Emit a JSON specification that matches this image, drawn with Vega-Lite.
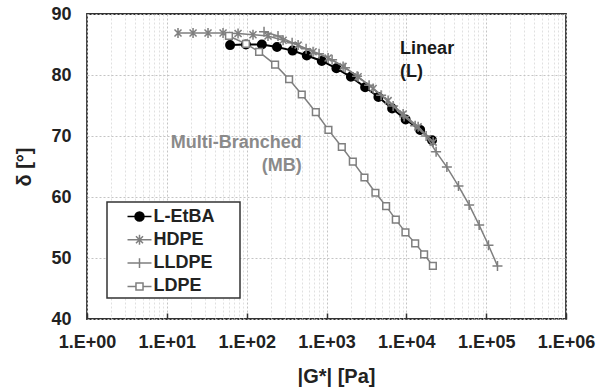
{
  "$schema": "https://vega.github.io/schema/vega-lite/v6.json",
  "width": 479,
  "height": 305,
  "autosize": "none",
  "padding": {"left": 87, "top": 14, "right": 31, "bottom": 73},
  "background": "white",
  "config": {
    "view": {"stroke": "#333333", "strokeWidth": 1.8},
    "font": "Liberation Sans",
    "axis": {
      "labelFont": "Liberation Sans", "labelFontWeight": "bold", "labelFontSize": 18, "labelColor": "#222",
      "titleFont": "Liberation Sans", "titleFontWeight": "bold", "titleFontSize": 20, "titleColor": "#222",
      "domain": false, "gridDash": [2, 2], "gridWidth": 1
    },
    "legend": {"strokeWidth": 1.5}
  },
  "datasets": {
    "curves": [
      {"series": "L-EtBA", "G": 62, "d": 84.9},
      {"series": "L-EtBA", "G": 98, "d": 85.0},
      {"series": "L-EtBA", "G": 155, "d": 85.0},
      {"series": "L-EtBA", "G": 240, "d": 84.6},
      {"series": "L-EtBA", "G": 376, "d": 84.0},
      {"series": "L-EtBA", "G": 566, "d": 83.2},
      {"series": "L-EtBA", "G": 873, "d": 82.3},
      {"series": "L-EtBA", "G": 1330, "d": 81.1},
      {"series": "L-EtBA", "G": 2023, "d": 79.7},
      {"series": "L-EtBA", "G": 3048, "d": 78.0},
      {"series": "L-EtBA", "G": 4470, "d": 76.4},
      {"series": "L-EtBA", "G": 6640, "d": 74.5},
      {"series": "L-EtBA", "G": 9800, "d": 72.7},
      {"series": "L-EtBA", "G": 14900, "d": 71.0},
      {"series": "L-EtBA", "G": 21000, "d": 69.3},
      {"series": "HDPE", "G": 13.8, "d": 86.9},
      {"series": "HDPE", "G": 21.3, "d": 86.9},
      {"series": "HDPE", "G": 32.8, "d": 86.9},
      {"series": "HDPE", "G": 50.6, "d": 86.9},
      {"series": "HDPE", "G": 78, "d": 86.8},
      {"series": "HDPE", "G": 120, "d": 86.6},
      {"series": "HDPE", "G": 185, "d": 86.4},
      {"series": "HDPE", "G": 286, "d": 85.7},
      {"series": "HDPE", "G": 441, "d": 84.9},
      {"series": "HDPE", "G": 679, "d": 83.8},
      {"series": "HDPE", "G": 1047, "d": 82.8},
      {"series": "HDPE", "G": 1614, "d": 81.4},
      {"series": "HDPE", "G": 2489, "d": 79.7},
      {"series": "HDPE", "G": 3837, "d": 77.8},
      {"series": "HDPE", "G": 5916, "d": 75.8},
      {"series": "HDPE", "G": 9120, "d": 73.6},
      {"series": "HDPE", "G": 14060, "d": 71.5},
      {"series": "HDPE", "G": 21670, "d": 69.0},
      {"series": "LLDPE", "G": 165, "d": 87.1},
      {"series": "LLDPE", "G": 247, "d": 86.4},
      {"series": "LLDPE", "G": 371, "d": 85.3},
      {"series": "LLDPE", "G": 555, "d": 84.3},
      {"series": "LLDPE", "G": 807, "d": 83.5},
      {"series": "LLDPE", "G": 1175, "d": 82.5},
      {"series": "LLDPE", "G": 1711, "d": 81.2},
      {"series": "LLDPE", "G": 2417, "d": 79.8},
      {"series": "LLDPE", "G": 3417, "d": 78.3},
      {"series": "LLDPE", "G": 4831, "d": 76.7},
      {"series": "LLDPE", "G": 6836, "d": 74.9},
      {"series": "LLDPE", "G": 9380, "d": 73.2},
      {"series": "LLDPE", "G": 12890, "d": 71.7},
      {"series": "LLDPE", "G": 17700, "d": 70.0},
      {"series": "LLDPE", "G": 23600, "d": 67.4},
      {"series": "LLDPE", "G": 32200, "d": 64.9},
      {"series": "LLDPE", "G": 45000, "d": 61.8},
      {"series": "LLDPE", "G": 61200, "d": 58.7},
      {"series": "LLDPE", "G": 81700, "d": 55.4},
      {"series": "LLDPE", "G": 106900, "d": 52.1},
      {"series": "LLDPE", "G": 138600, "d": 48.7},
      {"series": "LDPE", "G": 60, "d": 86.4},
      {"series": "LDPE", "G": 98, "d": 85.1},
      {"series": "LDPE", "G": 143, "d": 83.8},
      {"series": "LDPE", "G": 227, "d": 81.7},
      {"series": "LDPE", "G": 340, "d": 79.3},
      {"series": "LDPE", "G": 490, "d": 76.8},
      {"series": "LDPE", "G": 735, "d": 73.9},
      {"series": "LDPE", "G": 1057, "d": 71.0},
      {"series": "LDPE", "G": 1555, "d": 68.2},
      {"series": "LDPE", "G": 2137, "d": 65.8},
      {"series": "LDPE", "G": 2987, "d": 63.2},
      {"series": "LDPE", "G": 4100, "d": 60.7},
      {"series": "LDPE", "G": 5580, "d": 58.5},
      {"series": "LDPE", "G": 7380, "d": 56.3},
      {"series": "LDPE", "G": 9750, "d": 54.2},
      {"series": "LDPE", "G": 12900, "d": 52.4},
      {"series": "LDPE", "G": 16700, "d": 50.6},
      {"series": "LDPE", "G": 21500, "d": 48.7}
    ],
    "notes": [
      {"G": 8360, "d": 84.3, "text": "Linear", "group": "L"},
      {"G": 8360, "d": 80.5, "text": "(L)", "group": "L"},
      {"G": 490, "d": 68.9, "text": "Multi-Branched", "group": "MB"},
      {"G": 490, "d": 65.1, "text": "(MB)", "group": "MB"}
    ]
  },
  "data": {"name": "curves"},
  "encoding": {
    "x": {
      "field": "G", "type": "quantitative",
      "scale": {"type": "log", "domain": [1, 1000000], "nice": false},
      "title": "|G*| [Pa]",
      "axis": {
        "values": [1,2,3,4,5,6,7,8,9,10,20,30,40,50,60,70,80,90,100,200,300,400,500,600,700,800,900,1000,2000,3000,4000,5000,6000,7000,8000,9000,10000,20000,30000,40000,50000,60000,70000,80000,90000,100000,200000,300000,400000,500000,600000,700000,800000,900000,1000000],
        "labelExpr": "abs(log(datum.value)/LN10 - round(log(datum.value)/LN10)) < 0.001 ? '1.E+0' + round(log(datum.value)/LN10) : ''",
        "labelOverlap": false, "labelFlush": false, "labelBound": false,
        "grid": true,
        "gridColor": {"condition": {"test": "abs(log(datum.value)/LN10 - round(log(datum.value)/LN10)) < 0.001", "value": "#c4c4c4"}, "value": "#e0e0e0"},
        "tickColor": {"condition": {"test": "abs(log(datum.value)/LN10 - round(log(datum.value)/LN10)) < 0.001", "value": "#333333"}, "value": "transparent"},
        "tickSize": -6, "tickWidth": 1.5,
        "labelPadding": 20, "titlePadding": 15, "titleX": 249
      }
    },
    "y": {
      "field": "d", "type": "quantitative",
      "scale": {"domain": [40, 90], "nice": false},
      "title": "δ [°]",
      "axis": {"values": [40, 50, 60, 70, 80, 90], "grid": true, "gridColor": "#c4c4c4", "ticks": false, "labelPadding": 16, "titlePadding": 16}
    }
  },
  "layer": [
    {
      "transform": [{"filter": "datum.series === 'L-EtBA'"}],
      "mark": {"type": "line", "strokeWidth": 2},
      "encoding": {
        "color": {
          "field": "series", "type": "nominal",
          "scale": {"domain": ["L-EtBA", "HDPE", "LLDPE", "LDPE"], "range": ["#000000", "#7f7f7f", "#7f7f7f", "#7f7f7f"]},
          "legend": {
            "orient": "none", "legendX": 20, "legendY": 188, "title": null,
            "padding": 2.5, "symbolOffset": 18, "labelOffset": 2, "rowPadding": 2.3,
            "labelFont": "Liberation Sans", "labelFontSize": 18, "labelFontWeight": "bold", "labelColor": "#222",
            "strokeColor": "#333333", "fillColor": "white",
            "symbolSize": 484, "symbolStrokeWidth": 1.5,
            "encode": {
              "symbols": {
                "update": {
                  "shape": {"signal": "datum.value === 'L-EtBA' ? 'M-1.09,0H1.09M-0.41,0A0.41,0.41 0 1,0 0.41,0A0.41,0.41 0 1,0 -0.41,0ZM8.6,0L8.6,0' : datum.value === 'HDPE' ? 'M-1.09,0H1.09M0,-0.45V0.45M-0.32,-0.32L0.32,0.32M-0.32,0.32L0.32,-0.32' : datum.value === 'LLDPE' ? 'M-1.09,0H1.09M0,-0.45V0.45' : 'M-1.09,0H-0.32M0.32,0H1.09M-0.32,-0.32H0.32V0.32H-0.32Z'"},
                  "fill": {"signal": "datum.value === 'L-EtBA' ? '#000000' : datum.value === 'LDPE' ? '#ffffff' : 'transparent'"},
                  "stroke": {"signal": "datum.value === 'L-EtBA' ? '#000000' : '#7f7f7f'"},
                  "strokeWidth": {"value": 1.5},
                  "opacity": {"value": 1}
                }
              }
            }
          }
        }
      }
    },
    {
      "transform": [{"filter": "datum.series === 'L-EtBA'"}],
      "mark": {"type": "point", "shape": "circle", "filled": true, "size": 64, "fill": "#000000", "stroke": "#000000", "opacity": 1}
    },
    {
      "transform": [{"filter": "datum.series !== 'L-EtBA'"}],
      "mark": {"type": "line", "strokeWidth": 1.5},
      "encoding": {"color": {"field": "series", "type": "nominal"}}
    },
    {
      "transform": [{"filter": "datum.series === 'HDPE'"}],
      "mark": {"type": "point", "shape": "M-0.7,-0.7L0.7,0.7M-0.7,0.7L0.7,-0.7M0,-1V1", "size": 100, "filled": false, "stroke": "#7f7f7f", "strokeWidth": 1.5, "opacity": 1}
    },
    {
      "transform": [{"filter": "datum.series === 'LLDPE'"}],
      "mark": {"type": "point", "shape": "M-1,0H1M0,-1V1", "size": 100, "filled": false, "stroke": "#7f7f7f", "strokeWidth": 1.5, "opacity": 1}
    },
    {
      "transform": [{"filter": "datum.series === 'LDPE'"}],
      "mark": {"type": "point", "shape": "square", "size": 45, "filled": false, "fill": "#ffffff", "fillOpacity": 1, "stroke": "#7f7f7f", "strokeWidth": 1.5, "opacity": 1}
    },
    {
      "data": {"name": "notes"},
      "transform": [{"filter": "datum.group === 'L'"}],
      "mark": {"type": "text", "align": "left", "baseline": "middle", "font": "Liberation Sans", "fontWeight": "bold", "fontSize": 18, "fill": "#1a1a1a"},
      "encoding": {"text": {"field": "text"}}
    },
    {
      "data": {"name": "notes"},
      "transform": [{"filter": "datum.group === 'MB'"}],
      "mark": {"type": "text", "align": "right", "baseline": "middle", "font": "Liberation Sans", "fontWeight": "bold", "fontSize": 18, "fill": "#8a8a8a"},
      "encoding": {"text": {"field": "text"}}
    }
  ]
}
